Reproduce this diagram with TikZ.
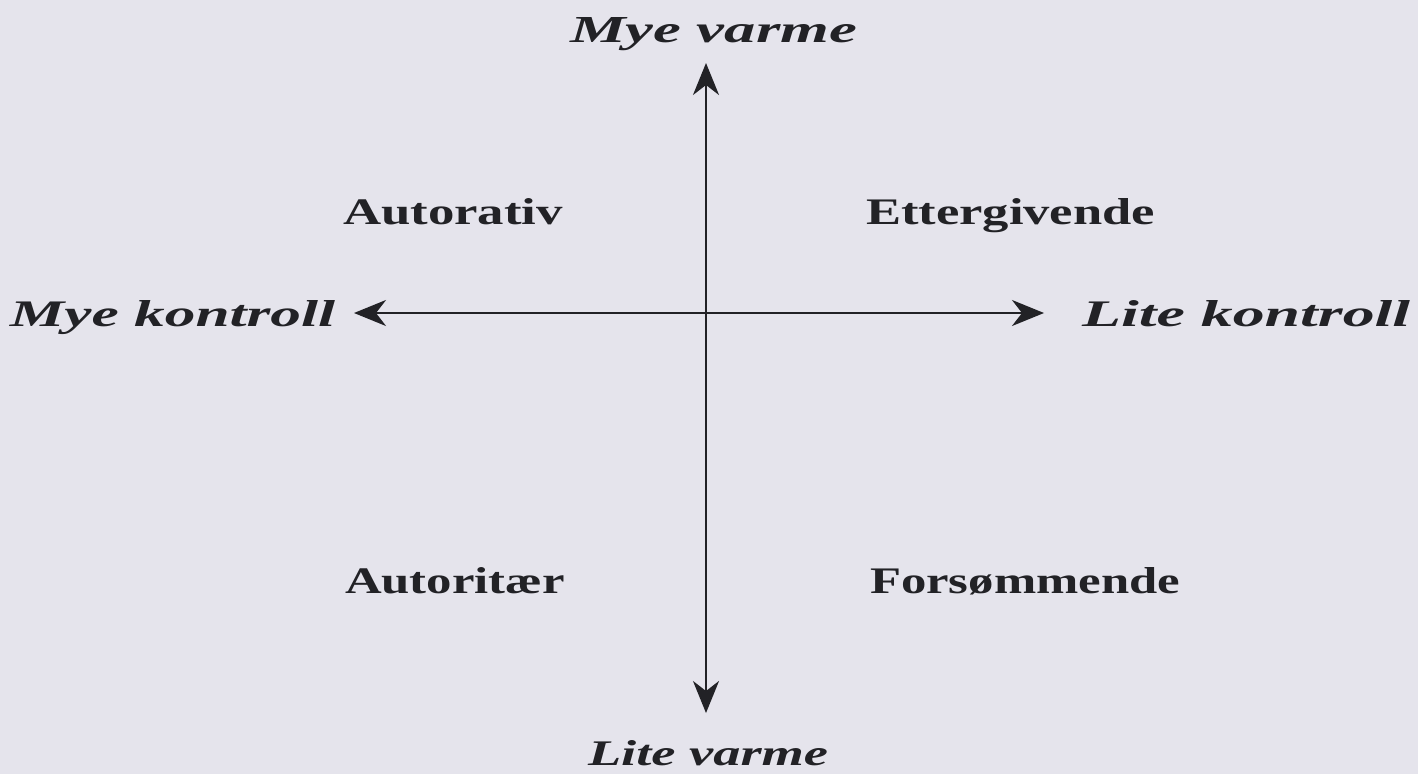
\documentclass[tikz,border=0pt]{standalone}
\usepackage{fontspec}
\setmainfont{Liberation Serif}
\usetikzlibrary{arrows.meta}
\definecolor{paper}{RGB}{229,228,236}
\definecolor{ink}{RGB}{34,34,38}
\newcommand{\fitlabel}[3]{\resizebox{#1pt}{#2pt}{#3}}
\tikzset{
  axis/.style={draw=ink, line width=2.2pt, {Stealth[length=32pt,width=26pt,inset=10pt]}-{Stealth[length=32pt,width=26pt,inset=10pt]}},
  lbl/.style={anchor=base west, inner sep=0pt, outer sep=0pt, text=ink, font=\bfseries},
  axlbl/.style={lbl, font=\bfseries\itshape}
}
\begin{document}
\begin{tikzpicture}[x=1pt,y=-1pt]
\fill[paper] (0,0) rectangle (1418,774);
\useasboundingbox (0,0) rectangle (1418,774);
\coordinate (T) at (706,63);
\coordinate (B) at (706,713);
\coordinate (L) at (354,313);
\coordinate (R) at (1044,313);
\draw[axis] (T) -- (B);
\draw[axis] (L) -- (R);
\node[axlbl] (myevarme) at (570,42) {\fitlabel{287}{25}{Mye varme}};
\node[axlbl] (litevarme) at (588,765) {\fitlabel{240}{25}{Lite varme}};
\node[axlbl] (myekontroll) at (10,326) {\fitlabel{325}{26}{Mye kontroll}};
\node[axlbl] (litekontroll) at (1082,326) {\fitlabel{328}{26}{Lite kontroll}};
\node[lbl] (autorativ) at (343,224) {\fitlabel{220}{26}{Autorativ}};
\node[lbl] (ettergivende) at (866,224) {\fitlabel{289}{26}{Ettergivende}};
\node[lbl] (autoritaer) at (345,593) {\fitlabel{220}{26}{Autoritær}};
\node[lbl] (forsommende) at (870,593) {\fitlabel{310}{26}{Forsømmende}};
\end{tikzpicture}
\end{document}
